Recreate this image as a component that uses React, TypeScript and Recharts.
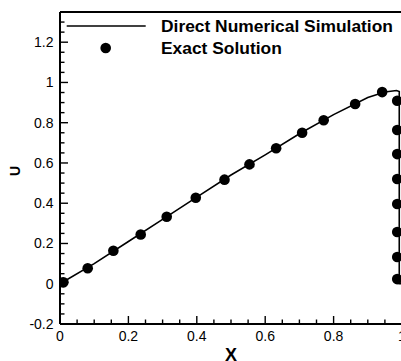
import React from "react";
import {
  ComposedChart,
  Line,
  Scatter,
  XAxis,
  YAxis,
  Legend,
  ReferenceLine,
  Label,
} from "recharts";

// Direct Numerical Simulation (solid line)
const dnsX = [0, 0.1, 0.2, 0.3, 0.4, 0.5, 0.6, 0.7, 0.8, 0.9, 0.95, 0.984, 0.992, 0.992, 1.0];
const dnsU = [0, 0.1, 0.21, 0.32, 0.43, 0.54, 0.64, 0.745, 0.84, 0.925, 0.953, 0.96, 0.955, 0, 0];

// Exact Solution (dots)
const exactX = [
  0.01, 0.081, 0.156, 0.236, 0.312, 0.397, 0.481, 0.554, 0.632, 0.708, 0.771, 0.863, 0.942,
  0.986, 0.986, 0.986, 0.986, 0.986, 0.986, 0.986, 0.986,
];
const exactU = [
  0.007, 0.077, 0.164, 0.245, 0.333, 0.427, 0.517, 0.593, 0.673, 0.75, 0.812, 0.893, 0.952,
  0.909, 0.764, 0.644, 0.52, 0.396, 0.257, 0.133, 0.023,
];

const xTicks = [
  0, 0.05, 0.1, 0.15, 0.2, 0.25, 0.3, 0.35, 0.4, 0.45, 0.5, 0.55, 0.6, 0.65, 0.7, 0.75, 0.8, 0.85,
  0.9, 0.95, 1,
];
const xMajor = [0, 0.2, 0.4, 0.6, 0.8, 1];
const yTicks = [
  -0.2, -0.15, -0.1, -0.05, 0, 0.05, 0.1, 0.15, 0.2, 0.25, 0.3, 0.35, 0.4, 0.45, 0.5, 0.55, 0.6,
  0.65, 0.7, 0.75, 0.8, 0.85, 0.9, 0.95, 1, 1.05, 1.1, 1.15, 1.2, 1.25, 1.3, 1.35,
];
const yMajor = [-0.2, 0, 0.2, 0.4, 0.6, 0.8, 1, 1.2];

const dnsData = dnsX.map((x, i) => ({ x, y: dnsU[i] }));
const exactData = exactX.map((x, i) => ({ x, y: exactU[i] }));

const FONT = "'Liberation Sans', Arial, sans-serif";

const isMajor = (v: number, list: number[]) => list.some((m) => Math.abs(m - v) < 1e-6);
const fmt = (v: number) => String(Number(v.toFixed(2)));

const YTick = (props: any) => {
  const { x, y, payload } = props;
  const major = isMajor(payload.value, yMajor);
  return (
    <g>
      <line x1={x} y1={y} x2={x + (major ? 8 : 4.5)} y2={y} stroke="#000" strokeWidth={1.4} />
      {major && (
        <text x={x - 6.5} y={y} dy={5} textAnchor="end" fontSize={14} fontFamily={FONT} fill="#000">
          {fmt(payload.value)}
        </text>
      )}
    </g>
  );
};

const XTick = (props: any) => {
  const { x, y, payload } = props;
  const major = isMajor(payload.value, xMajor);
  return (
    <g>
      <line x1={x} y1={y} x2={x} y2={y - (major ? 8 : 4.5)} stroke="#000" strokeWidth={1.4} />
      {major && (
        <text x={x} y={y + 16.5} textAnchor="middle" fontSize={14} fontFamily={FONT} fill="#000">
          {fmt(payload.value)}
        </text>
      )}
    </g>
  );
};

const renderLegend = (props: any) => {
  const { payload } = props;
  return (
    <svg width={340} height={50} style={{ display: "block" }}>
      {(payload || []).map((entry: any, i: number) => {
        const cy = 14 + i * 22;
        return (
          <g key={entry.value}>
            {entry.type === "line" ? (
              <line x1={6.7} y1={cy} x2={85.7} y2={cy} stroke="#000" strokeWidth={1.6} />
            ) : (
              <circle cx={45.7} cy={cy} r={5.3} fill="#000" />
            )}
            <text x={101} y={cy + 6.3} fontSize={17.4} fontWeight="bold" fontFamily={FONT} fill="#000">
              {entry.value}
            </text>
          </g>
        );
      })}
    </svg>
  );
};

export default function App() {
  return (
    <div style={{ position: "fixed", left: 0, top: 0, width: 401, height: 361, overflow: "hidden", background: "#fff" }}>
      <ComposedChart width={404} height={361} margin={{ top: 12, right: 2, bottom: 0, left: 0 }}>
        <XAxis
          type="number"
          dataKey="x"
          domain={[0, 1]}
          ticks={xTicks}
          interval={0}
          height={37}
          tickSize={0}
          tickMargin={0}
          tick={<XTick />}
          axisLine={{ stroke: "#000", strokeWidth: 2 }}
          allowDataOverflow
        >
          <Label
            content={(p: any) => {
              const vb = p.viewBox;
              return (
                <text
                  x={vb.x + vb.width / 2}
                  y={vb.y + vb.height - 0.5}
                  textAnchor="middle"
                  fontSize={18}
                  fontWeight="bold"
                  fontFamily={FONT}
                  fill="#000"
                >
                  X
                </text>
              );
            }}
          />
        </XAxis>
        <YAxis
          type="number"
          domain={[-0.2, 1.35]}
          ticks={yTicks}
          interval={0}
          width={60}
          tickSize={0}
          tickMargin={0}
          tick={<YTick />}
          axisLine={{ stroke: "#000", strokeWidth: 2 }}
          allowDataOverflow
        >
          <Label
            content={(p: any) => {
              const vb = p.viewBox;
              const cx = vb.x + 20;
              const cy = vb.y + vb.height / 2 + 3;
              return (
                <text
                  transform={`translate(${cx},${cy}) rotate(-90)`}
                  textAnchor="middle"
                  fontSize={14}
                  fontWeight="bold"
                  fontFamily={FONT}
                  fill="#000"
                >
                  U
                </text>
              );
            }}
          />
        </YAxis>
        <ReferenceLine y={1.35} stroke="#000" strokeWidth={2} />
        <ReferenceLine x={1} stroke="#000" strokeWidth={2} />
        <Legend
          verticalAlign="middle"
          align="center"
          layout="horizontal"
          wrapperStyle={{ top: 12, left: 60, width: 340, height: 50 }}
          content={renderLegend}
        />
        <Line
          data={dnsData}
          dataKey="y"
          name="Direct Numerical Simulation"
          type="linear"
          stroke="#000"
          strokeWidth={1.6}
          dot={false}
          legendType="line"
          isAnimationActive={false}
        />
        <Scatter
          data={exactData}
          dataKey="y"
          name="Exact Solution"
          fill="#000"
          legendType="circle"
          shape={(p: any) => <circle cx={p.cx} cy={p.cy} r={5.3} fill="#000" />}
          isAnimationActive={false}
        />
      </ComposedChart>
    </div>
  );
}
